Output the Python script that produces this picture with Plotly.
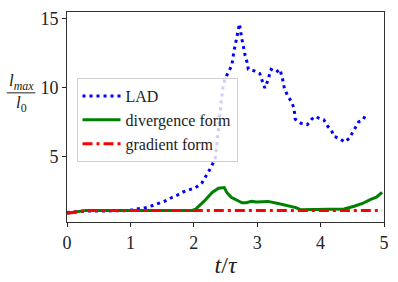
import plotly.graph_objects as go

# LAD (blue dotted)
t_lad = [0.0, 0.15, 0.3, 0.5, 0.7, 0.9, 1.0, 1.14, 1.24, 1.35, 1.45, 1.56, 1.66, 1.74, 1.84, 1.92,
         2.03, 2.13, 2.21, 2.27, 2.34, 2.37, 2.39, 2.41, 2.43, 2.46, 2.49, 2.56, 2.60, 2.63, 2.67,
         2.70, 2.72, 2.75, 2.78, 2.81, 2.84, 2.86, 2.95, 3.04, 3.07, 3.12, 3.16, 3.22, 3.30, 3.36,
         3.40, 3.43, 3.48, 3.54, 3.58, 3.60, 3.69, 3.79, 3.86, 3.92, 3.98, 4.05, 4.11, 4.17, 4.21,
         4.30, 4.38, 4.45, 4.50, 4.60, 4.67, 4.72]
v_lad = [0.95, 1.0, 1.05, 1.05, 1.05, 1.08, 1.12, 1.2, 1.3, 1.45, 1.6, 1.8, 2.05, 2.2, 2.45, 2.6,
         2.75, 3.1, 3.7, 4.2, 4.9, 6.0, 7.0, 8.0, 9.0, 10.0, 10.6, 11.2, 11.6, 12.5, 13.5,
         14.3, 14.6, 13.7, 12.9, 12.3, 11.8, 11.3, 11.2, 11.0, 10.6, 9.95, 10.4, 11.3, 11.1, 11.3,
         10.6, 9.9, 9.4, 8.95, 8.5, 7.7, 7.4, 7.3, 7.7, 7.9, 7.75, 7.65, 7.2, 6.9, 6.45,
         6.3, 6.05, 6.3, 6.7, 7.5, 7.65, 8.1]

# divergence form (green solid)
t_div = [0.0, 0.15, 0.3, 0.6, 1.0, 1.5, 1.98, 2.03, 2.16, 2.29, 2.39, 2.48, 2.52, 2.59, 2.65,
         2.76, 2.83, 2.91, 2.99, 3.07, 3.17, 3.33, 3.48, 3.61, 3.68, 3.9, 4.06, 4.37, 4.53,
         4.66, 4.79, 4.88, 4.97]
v_div = [0.9, 1.0, 1.1, 1.1, 1.1, 1.1, 1.1, 1.2, 1.75, 2.4, 2.7, 2.75, 2.4, 2.05, 1.9,
         1.65, 1.65, 1.75, 1.7, 1.7, 1.75, 1.6, 1.45, 1.3, 1.15, 1.15, 1.2, 1.2, 1.4,
         1.6, 1.9, 2.05, 2.4]

# gradient form (red dash-dot)
t_grad = [0.0, 0.1, 0.2, 0.3, 0.5, 1.0, 2.0, 3.0, 4.0, 4.97]
v_grad = [0.9, 0.97, 1.03, 1.08, 1.1, 1.1, 1.1, 1.1, 1.1, 1.1]

x_ticks = [0, 1, 2, 3, 4, 5]
y_ticks = [5, 10, 15]

font_family = "Liberation Serif, Times New Roman, serif"

fig = go.Figure()
fig.add_trace(go.Scatter(x=t_lad, y=v_lad, mode="lines", name="LAD",
                         line=dict(color="#0000ff", width=3, dash="3px,4px")))
fig.add_trace(go.Scatter(x=t_div, y=v_div, mode="lines", name="divergence form",
                         line=dict(color="#008000", width=3)))
fig.add_trace(go.Scatter(x=t_grad, y=v_grad, mode="lines", name="gradient form",
                         line=dict(color="#ff0000", width=3, dash="10px,4px,3px,4px")))

fig.update_layout(
    width=398, height=282,
    margin=dict(l=67, r=11, t=9, b=60),
    paper_bgcolor="white", plot_bgcolor="white",
    font=dict(family=font_family, color="#222"),
    showlegend=True,
    legend=dict(x=0.03, y=0.685, xanchor="left", yanchor="top",
                bgcolor="rgba(255,255,255,0.8)", bordercolor="#d0d0d0", borderwidth=1,
                font=dict(family=font_family, size=16, color="#222"),
                itemwidth=38, tracegroupgap=0),
    xaxis=dict(range=[0, 5], tickvals=x_ticks, ticktext=[str(v) for v in x_ticks],
               ticks="outside", ticklen=4, tickcolor="#222", showgrid=False, zeroline=False,
               showline=True, linecolor="#333", linewidth=1, mirror=True,
               tickfont=dict(size=18, family=font_family),
               title=dict(text="<i>t</i>/<i>τ</i>", font=dict(size=24, family=font_family), standoff=4)),
    yaxis=dict(range=[0.26, 15.45], tickvals=y_ticks, ticktext=[str(v) for v in y_ticks],
               ticks="outside", ticklen=4, tickcolor="#222", showgrid=False, zeroline=False,
               showline=True, linecolor="#333", linewidth=1, mirror=True,
               tickfont=dict(size=18, family=font_family)),
)

# y-axis label as a fraction
fig.add_annotation(xref="paper", yref="paper", x=-0.145, y=0.665, xanchor="center", yanchor="middle",
                   text="<i>l</i><sub><i>max</i></sub>", showarrow=False,
                   font=dict(size=17, family=font_family, color="#222"))
fig.add_annotation(xref="paper", yref="paper", x=-0.145, y=0.56, xanchor="center", yanchor="middle",
                   text="<i>l</i><sub>0</sub>", showarrow=False,
                   font=dict(size=17, family=font_family, color="#222"))
fig.add_shape(type="line", xref="paper", yref="paper", x0=-0.19, x1=-0.1, y0=0.615, y1=0.615,
              line=dict(color="#222", width=1))

fig.write_html("out.html", config={"displayModeBar": False},
               post_script="document.body.style.margin='0';document.body.style.padding='0';")
